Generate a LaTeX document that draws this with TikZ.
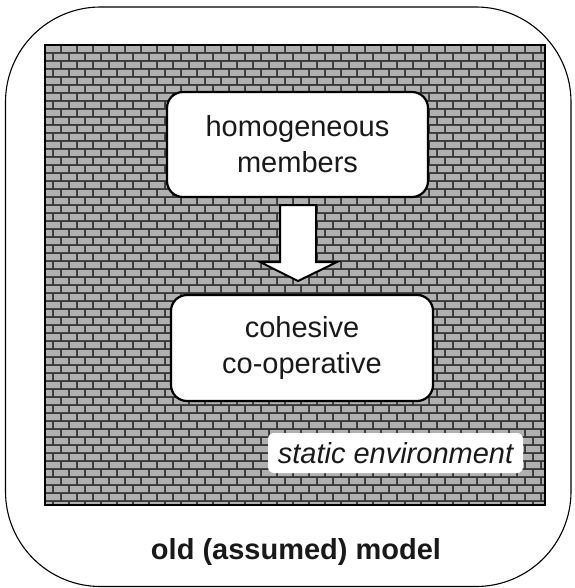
\documentclass[tikz,border=0pt]{standalone}
\usepackage{fontspec}
\setmainfont{Liberation Sans}
\begin{document}
\begin{tikzpicture}[x=1pt,y=-1pt,
  txt/.style={font=\fontsize{29}{36}\selectfont, text=black!90, align=center},
  boxstyle/.style={draw=black, line width=2.2pt, fill=white, rounded corners=16pt, txt},
  brick/.style={fill=black!31},
  mortar/.style={fill=black!78}]
\useasboundingbox (0,0) rectangle (574,588);
% outer frame
\draw[line width=1.1pt, rounded corners=95pt] (5.5,7) rectangle (571,586.5);
% brick wall
\fill[mortar] (45,45) rectangle (545,505);
\begin{scope}
\clip (45,45) rectangle (545,505);
\fill[brick] \foreach \r [evaluate=\r as \yy using {45+8*\r}, evaluate=\r as \off using {mod(\r,2)*8}] in {0,...,57} {
  \foreach \c in {-1,...,31} { ({45+16*\c+\off+1},{\yy+1}) rectangle ++(14,6) }
};
\end{scope}
\draw[line width=1.6pt] (45,45) rectangle (545,505);
% boxes
\node[boxstyle, minimum width=261pt, minimum height=105pt] (top) at (297.5,144.5) {homogeneous\\members};
\node[boxstyle, minimum width=262pt, minimum height=106pt] (bot) at (302,348) {cohesive\\co-operative};
% block arrow
\draw[line width=2pt, fill=white, line join=miter]
  (280,205) -- (316,205) -- (316,262) -- (337,262) -- (298,281) -- (260,262) -- (280,262) -- cycle;
% environment label
\node[fill=white, rounded corners=6pt, minimum width=255pt, minimum height=40pt, txt, font=\fontsize{29}{36}\selectfont\itshape] (env) at (395.5,453) {static environment};
% title
\node[txt, font=\fontsize{29}{36}\selectfont\bfseries] (title) at (296,552) {old (assumed) model};
\end{tikzpicture}
\end{document}
